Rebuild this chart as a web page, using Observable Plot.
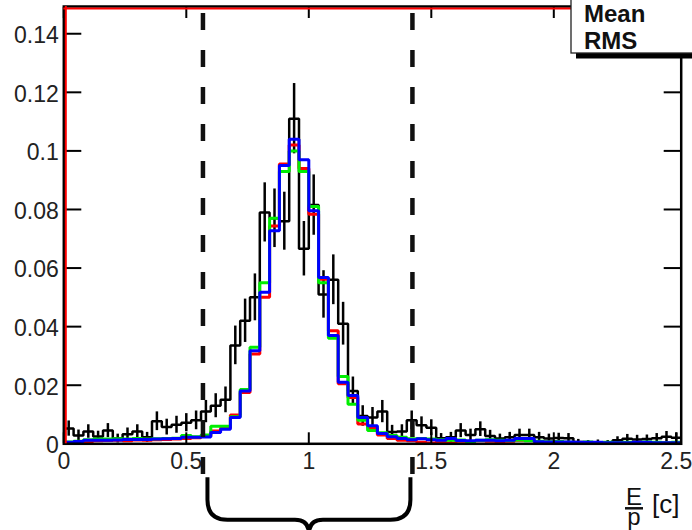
<!DOCTYPE html>
<html><head><meta charset="utf-8">
<script src="https://cdn.jsdelivr.net/npm/d3@7"></script>
<script src="https://cdn.jsdelivr.net/npm/@observablehq/plot@0.6"></script>
<style>
html,body{margin:0;padding:0;background:#fff;}
#chart{width:692px;height:530px;overflow:hidden;}
</style></head><body><div id="chart"></div>
<script>
// ---- data (63 bins of width 0.04 on [0, 2.52]) ----
const binWidth = 0.04;
const xMax = 2.52;
const dataVals = [0.0052,0.0028,0.0042,0.0025,0.0045,0.0018,0.0033,0.0042,0.0022,0.0077,
  0.0057,0.0065,0.0072,0.0080,0.0110,0.0130,0.0150,0.0336,0.0420,0.0500,
  0.0790,0.0770,0.0760,0.1110,0.0666,0.0815,0.0510,0.0560,0.0410,0.0180,
  0.0095,0.0090,0.0110,0.0040,0.0042,0.0080,0.0063,0.0055,0.0019,0.0022,
  0.0045,0.0030,0.0050,0.0027,0.0018,0.0022,0.0030,0.0030,0.0022,0.0018,
  0.0020,0.0019,0.0006,0.0004,0.0005,0.0004,0.0012,0.0017,0.0015,0.0016,
  0.0019,0.0024,0.0021];
const dataErrs = [0.0026,0.0019,0.0023,0.0018,0.0024,0.0015,0.0021,0.0023,0.0017,0.0032,
  0.0027,0.0029,0.0031,0.0032,0.0038,0.0041,0.0044,0.0066,0.0074,0.0080,
  0.0101,0.0100,0.0099,0.0120,0.0093,0.0103,0.0081,0.0085,0.0073,0.0048,
  0.0035,0.0034,0.0038,0.0023,0.0023,0.0032,0.0029,0.0027,0.0016,0.0017,
  0.0024,0.0020,0.0025,0.0019,0.0015,0.0017,0.0020,0.0020,0.0017,0.0015,
  0.0016,0.0016,0.0009,0.0007,0.0008,0.0007,0.0012,0.0015,0.0014,0.0014,
  0.0016,0.0018,0.0016];
const redVals = [0.0003,0.0004,0.0008,0.0010,0.0011,0.0012,0.0010,0.0013,0.0012,0.0014,
  0.0015,0.0016,0.0018,0.0021,0.0026,0.0044,0.0055,0.0098,0.0175,0.0307,
  0.0500,0.0744,0.0955,0.1020,0.0940,0.0784,0.0562,0.0386,0.0205,0.0158,
  0.0068,0.0055,0.0030,0.0018,0.0012,0.0010,0.0005,0.0003,0.0008,0.0003,
  0.0009,0.0008,0.0010,0.0009,0.0007,0.0009,0.0012,0.0015,0.0006,0.0005,
  0.0004,0.0003,0.0003,0.0003,0.0003,0.0002,0.0002,0.0003,0.0002,0.0003,
  0.0003,0.0003,0.0003];
const greenVals = [0.0006,0.0009,0.0014,0.0016,0.0016,0.0017,0.0016,0.0018,0.0016,0.0017,
  0.0018,0.0019,0.0028,0.0024,0.0030,0.0060,0.0060,0.0092,0.0185,0.0330,
  0.0550,0.0770,0.0930,0.1000,0.0930,0.0810,0.0550,0.0360,0.0230,0.0135,
  0.0080,0.0045,0.0038,0.0028,0.0022,0.0017,0.0018,0.0016,0.0014,0.0012,
  0.0013,0.0008,0.0012,0.0014,0.0012,0.0011,0.0013,0.0010,0.0009,0.0007,
  0.0008,0.0005,0.0004,0.0006,0.0004,0.0005,0.0004,0.0005,0.0004,0.0006,
  0.0005,0.0004,0.0005];
const blueVals = [0.0005,0.0008,0.0012,0.0012,0.0012,0.0013,0.0015,0.0015,0.0015,0.0016,
  0.0017,0.0018,0.0022,0.0022,0.0023,0.0039,0.0050,0.0090,0.0180,0.0318,
  0.0517,0.0727,0.0950,0.1040,0.0970,0.0796,0.0568,0.0370,0.0210,0.0165,
  0.0090,0.0062,0.0035,0.0024,0.0018,0.0014,0.0017,0.0014,0.0012,0.0018,
  0.0011,0.0010,0.0012,0.0012,0.0010,0.0012,0.0018,0.0018,0.0007,0.0006,
  0.0006,0.0006,0.0005,0.0005,0.0005,0.0004,0.0004,0.0004,0.0005,0.0005,
  0.0004,0.0004,0.0004];
const xTicks = [0, 0.5, 1, 1.5, 2, 2.5];
const yTicks = [0, 0.02, 0.04, 0.06, 0.08, 0.1, 0.12, 0.14];
const yMax = 0.1493;
const cuts = [0.57, 1.425];
const statsLabels = ["Mean", "RMS"];
const titleNum = "E", titleDen = "p", titleUnit = "[c]";

// ---- derived tables ----
function steps(vals) {
  const pts = [];
  vals.forEach((v, i) => { pts.push({x: i * binWidth, y: v}); pts.push({x: (i + 1) * binWidth, y: v}); });
  return pts;
}
const dataBins = dataVals.map((v, i) => ({x: (i + 0.5) * binWidth, v, e: dataErrs[i]}));
const FONT = "'Liberation Sans', Arial, Helvetica, sans-serif";
const plainFmt = d => `${d}`;

function decorations(index, scales, values, dims) {
  const {width, height, marginTop, marginBottom} = dims;
  const x = scales.x;
  const base = height - marginBottom;
  const g = d3.create("svg:g");
  // dashed cut lines
  for (const c of cuts) {
    g.append("line").attr("x1", x(c)).attr("x2", x(c))
      .attr("y1", marginTop + 7).attr("y2", base + 31)
      .attr("stroke", "#111").attr("stroke-width", 4.5)
      .attr("stroke-dasharray", "17,20");
  }
  // curly brace below the axis
  const xl = x(cuts[0]) + 4.5, xr = x(cuts[1]) - 2;
  const mid = (xl + xr) / 2;
  const yTop = base + 34, yH = base + 76.5, yC = height + 4, r = 20;
  const p = `M${xl},${yTop} V${yH - r} Q${xl},${yH} ${xl + r},${yH} H${mid - 14} Q${mid},${yH} ${mid},${yC}` +
            ` M${xr},${yTop} V${yH - r} Q${xr},${yH} ${xr - r},${yH} H${mid + 14} Q${mid},${yH} ${mid},${yC}`;
  g.append("path").attr("d", p).attr("fill", "none").attr("stroke", "#000").attr("stroke-width", 4);
  // stats box
  const bx = width - 121;
  g.append("rect").attr("x", bx + 5).attr("y", 52).attr("width", 130).attr("height", 6.5).attr("fill", "#000");
  g.append("rect").attr("x", bx).attr("y", -3).attr("width", 140).attr("height", 56)
    .attr("fill", "#fff").attr("stroke", "#222").attr("stroke-width", 1.3);
  statsLabels.forEach((t, i) => {
    g.append("text").attr("x", bx + 13).attr("y", 21.5 + i * 27.5).text(t)
      .attr("text-anchor", "start")
      .attr("font-family", FONT).attr("font-weight", "bold").attr("font-size", 24).attr("fill", "#111");
  });
  // axis title E/p [c]
  const tx = width - 58;
  g.append("text").attr("x", tx).attr("y", base + 62).attr("text-anchor", "middle").text(titleNum)
    .attr("font-family", FONT).attr("font-size", 24).attr("fill", "#111");
  g.append("line").attr("x1", tx - 9).attr("x2", tx + 9).attr("y1", base + 65).attr("y2", base + 65)
    .attr("stroke", "#111").attr("stroke-width", 2.5);
  g.append("text").attr("x", tx).attr("y", base + 82).attr("text-anchor", "middle").text(titleDen)
    .attr("font-family", FONT).attr("font-size", 24).attr("fill", "#111");
  g.append("text").attr("x", tx + 18).attr("y", base + 70).attr("text-anchor", "start").text(titleUnit)
    .attr("font-family", FONT).attr("font-size", 26).attr("fill", "#111");
  return g.node();
}

const lineOpts = {x: "x", y: "y", strokeLinejoin: "miter", strokeLinecap: "butt"};
const chart = Plot.plot({
  width: 692, height: 530,
  marginLeft: 63.3, marginRight: 11.3, marginTop: 6, marginBottom: 86.7,
  x: {domain: [0, xMax], label: null},
  y: {domain: [0, yMax], label: null},
  style: {fontFamily: FONT, background: "#fff"},
  marks: [
    Plot.line(steps(dataVals), {...lineOpts, stroke: "#000", strokeWidth: 2.5}),
    Plot.ruleX(dataBins, {x: "x", y1: d => d.v - d.e, y2: d => d.v + d.e, stroke: "#000", strokeWidth: 2.5}),
    Plot.line(steps(redVals), {...lineOpts, stroke: "#ff0000", strokeWidth: 3}),
    Plot.line(steps(greenVals), {...lineOpts, stroke: "#00ee00", strokeWidth: 3}),
    Plot.line(steps(blueVals), {...lineOpts, stroke: "#0000ff", strokeWidth: 3}),
    // axes: ticks pointing inward, labels outside
    Plot.axisY(yTicks, {anchor: "left", tickSize: 18, dx: 18, tickFormat: () => "", strokeWidth: 2, label: null}),
    Plot.axisY(yTicks, {anchor: "right", tickSize: 18, dx: -18, tickFormat: () => "", strokeWidth: 2, label: null}),
    Plot.axisY(yTicks, {anchor: "left", tickSize: 0, tickPadding: 5, dy: 2, fontSize: 23, color: "#222", tickFormat: plainFmt, label: null}),
    Plot.axisX(xTicks, {anchor: "bottom", tickSize: 11, dy: -11, tickFormat: () => "", strokeWidth: 2, label: null}),
    Plot.axisX(xTicks, {anchor: "top", tickSize: 11, dy: 11, tickFormat: () => "", strokeWidth: 2, label: null}),
    Plot.axisX(xTicks, {anchor: "bottom", tickSize: 0, tickPadding: 9, fontSize: 23, color: "#222", tickFormat: plainFmt, label: null}),
    Plot.frame({stroke: "#000", strokeWidth: 2.5}),
    Plot.ruleX([0], {stroke: "#ff0000", strokeWidth: 2, dx: 2}),
    Plot.ruleY([yMax], {stroke: "#ff0000", strokeWidth: 2, dy: 2}),
    decorations
  ]
});
document.getElementById("chart").appendChild(chart);
</script></body></html>
